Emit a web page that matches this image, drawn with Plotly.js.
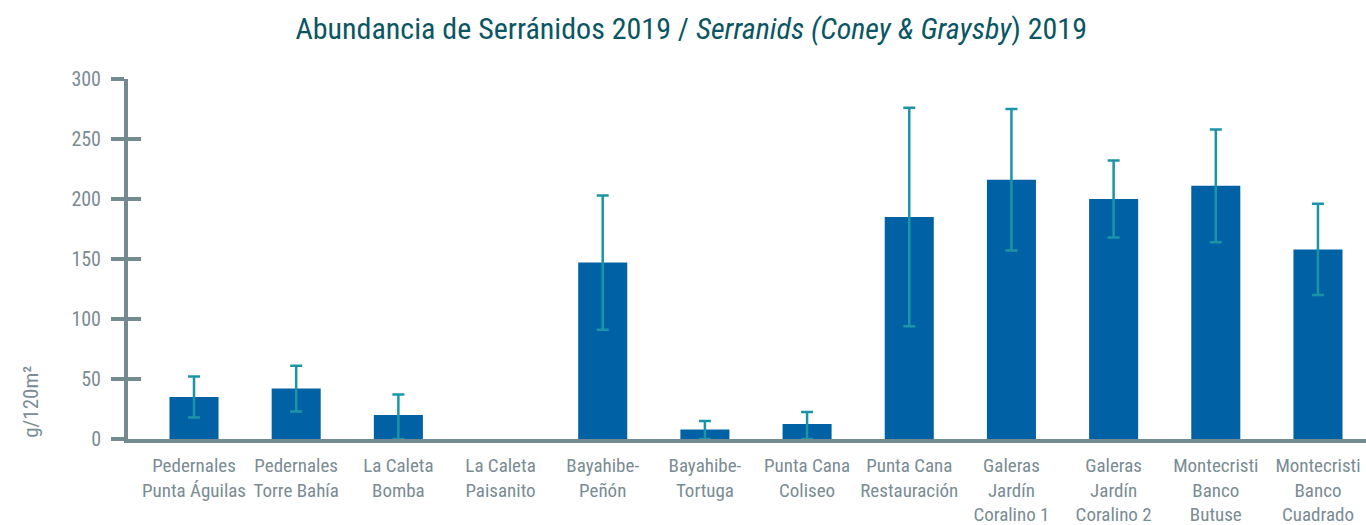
<!DOCTYPE html>
<html>
<head>
<meta charset="utf-8">
<script src="https://cdn.plot.ly/plotly-3.0.1.min.js"></script>
<style>html,body{margin:0;padding:0;background:#fff;}#chart{width:1366px;height:525px;}</style>
</head>
<body>
<div id="chart"></div>
<script>
const sites = [
  "Pedernales<br>Punta Águilas",
  "Pedernales<br>Torre Bahía",
  "La Caleta<br>Bomba",
  "La Caleta<br>Paisanito",
  "Bayahibe-<br>Peñón",
  "Bayahibe-<br>Tortuga",
  "Punta Cana<br>Coliseo",
  "Punta Cana<br>Restauración",
  "Galeras<br>Jardín<br>Coralino 1",
  "Galeras<br>Jardín<br>Coralino 2",
  "Montecristi<br>Banco<br>Butuse",
  "Montecristi<br>Banco<br>Cuadrado"
];
const abundance = [35, 42, 20, 0, 147, 8, 12.5, 185, 216, 200, 211, 158];
const errorUp = [17, 19, 17, 0, 56, 7, 10, 91, 59, 32, 47, 38];
const errorDown = [17, 19, 20, 0, 56, 8, 12.5, 91, 59, 32, 47, 38];
const yTicks = [0, 50, 100, 150, 200, 250, 300];

const fontFam = '"Roboto Condensed", "Liberation Sans Narrow", "DejaVu Sans Condensed", Arial, sans-serif';
const axisGrey = '#738A91';
const textGrey = '#7A8C93';

const idx = sites.map((_, i) => i);
// a zero value draws no bar (and no error cap), as in the reference
const shownY = abundance.map(v => (v === 0 ? null : v));

const trace = {
  type: 'bar',
  x: idx,
  y: shownY,
  width: 0.48,
  marker: {color: '#0062A4'},
  error_y: {type: 'data', symmetric: false, array: errorUp, arrayminus: errorDown, visible: true, color: '#1B95A6', thickness: 2.5, width: 6},
  hoverinfo: 'y'
};

const layout = {
  width: 1366, height: 525,
  margin: {l: 128, r: 0, t: 79, b: 86},
  paper_bgcolor: '#fff', plot_bgcolor: '#fff',
  showlegend: false,
  font: {family: fontFam, color: textGrey, size: 20},
  title: {
    text: 'Abundancia de Serránidos 2019 / <i>Serranids (Coney & Graysby</i>) 2019',
    font: {family: fontFam, size: 30, color: '#0B5663'},
    x: 0.506, xanchor: 'center', y: 0.945, yanchor: 'middle'
  },
  xaxis: {
    range: [-0.646, 11.47],
    tickmode: 'array', tickvals: idx, ticktext: sites,
    ticks: '', showgrid: false, zeroline: false,
    showline: true, linecolor: axisGrey, linewidth: 4,
    tickfont: {family: fontFam, size: 19, color: textGrey},
    ticklabelstandoff: 6,
    fixedrange: true
  },
  yaxis: {
    range: [0, 300],
    tickmode: 'array', tickvals: yTicks,
    ticks: 'outside', ticklen: 13, tickwidth: 4, tickcolor: axisGrey,
    showgrid: false, zeroline: false,
    showline: true, linecolor: axisGrey, linewidth: 4,
    tickfont: {family: fontFam, size: 20, color: textGrey},
    ticklabelstandoff: 6,
    fixedrange: true
  },
  yaxis2: {
    overlaying: 'y', side: 'left',
    range: [0, 300],
    tickmode: 'array', tickvals: yTicks,
    ticks: 'inside', ticklen: 13, tickwidth: 4, tickcolor: axisGrey,
    showticklabels: false, showgrid: false, zeroline: false, showline: false,
    fixedrange: true
  },
  annotations: [{
    text: 'g/120m²',
    xref: 'paper', yref: 'y',
    x: 0, y: 31, xshift: -111,
    textangle: -90, showarrow: false,
    font: {family: fontFam, size: 21, color: textGrey}
  }]
};

const dummy = {type: 'scatter', x: [0], y: [0], yaxis: 'y2', mode: 'markers', marker: {opacity: 0}, hoverinfo: 'skip'};

Plotly.newPlot('chart', [trace, dummy], layout, {displayModeBar: false, staticPlot: true});
</script>
</body>
</html>
